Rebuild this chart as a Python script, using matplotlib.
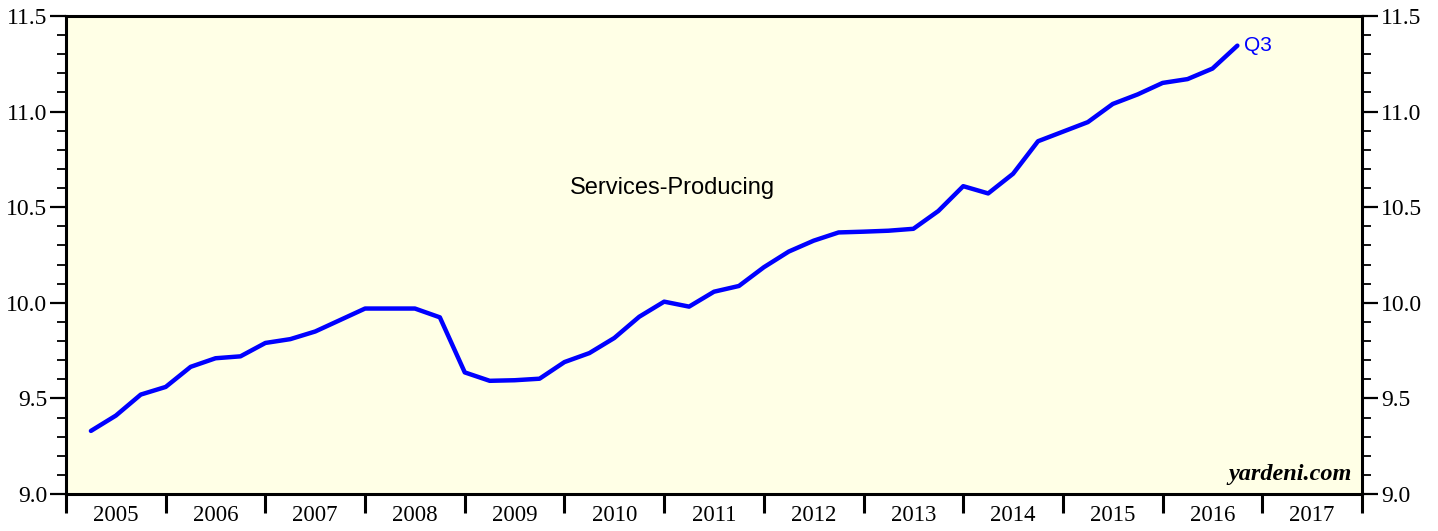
import numpy as np
import matplotlib.pyplot as plt
from matplotlib.ticker import MultipleLocator, FixedLocator, NullFormatter

# quarterly values, Q1 2005 .. Q3 2016
values = [9.33, 9.41, 9.52, 9.56,
          9.665, 9.71, 9.72, 9.79,
          9.81, 9.85, 9.91, 9.97,
          9.97, 9.97, 9.924, 9.636,
          9.592, 9.595, 9.603, 9.69,
          9.737, 9.816, 9.927, 10.006,
          9.98, 10.058, 10.088, 10.186,
          10.268, 10.325, 10.368, 10.372,
          10.377, 10.387, 10.48, 10.61,
          10.572, 10.675, 10.845, 10.895,
          10.945, 11.04, 11.09, 11.15,
          11.17, 11.225, 11.345]
start_year = 2005
years = list(range(2005, 2018))

x = start_year + 0.25 * np.arange(1, len(values) + 1)

serif = 'Liberation Serif'
sans = 'Liberation Sans'

fig = plt.figure(figsize=(14.38, 5.31), dpi=100)
ax = fig.add_axes([66/1438, 37/531, (1362-66)/1438, (494-16)/531])
ax.set_facecolor('#ffffe6')

ax.plot(x, values, color='#0000ff', linewidth=3.2, solid_capstyle='round', zorder=3)

ax.set_xlim(2005, 2018)
ax.set_ylim(9.0, 11.5)

# y axis: labels on both sides, ticks outward
ax.yaxis.set_major_locator(MultipleLocator(0.5))
ax.yaxis.set_minor_locator(MultipleLocator(0.1))
ax.yaxis.set_major_formatter(plt.FuncFormatter(lambda v, p: '%.1f' % v))
ax.tick_params(axis='y', which='major', direction='out', length=11.5, width=1.6,
               left=True, right=True, labelleft=True, labelright=True,
               labelsize=17, pad=2)
ax.tick_params(axis='y', which='minor', direction='out', length=6.5, width=1.3,
               left=True, right=True)

# x axis: ticks at year boundaries, labels centred in the year
ax.xaxis.set_major_locator(FixedLocator(years + [2018]))
ax.xaxis.set_major_formatter(NullFormatter())
ax.xaxis.set_minor_locator(FixedLocator([y + 0.5 for y in years]))
ax.xaxis.set_minor_formatter(plt.FixedFormatter([str(y) for y in years]))
ax.tick_params(axis='x', which='major', direction='out', length=13.5, width=2.2)
ax.tick_params(axis='x', which='minor', length=0, labelsize=16.5, pad=8)

for lab in ax.get_xticklabels(minor=True):
    lab.set_fontfamily(serif)
for t in ax.yaxis.get_major_ticks():
    t.label1.set_fontfamily(serif)
    t.label2.set_fontfamily(serif)

for s in ax.spines.values():
    s.set_linewidth(2.2)

ax.text(2011.08, 10.60, 'Services-Producing', fontsize=17, family=sans,
        ha='center', va='center')
ax.text(x[-1] + 0.07, values[-1], 'Q3', fontsize=15, family=sans,
        color='#0000ff', ha='left', va='center')
ax.text(0.992, 0.018, 'yardeni.com', transform=ax.transAxes, fontsize=17.5,
        family=serif, fontweight='bold', fontstyle='italic',
        ha='right', va='bottom')

fig.savefig('out.png', dpi=100)
